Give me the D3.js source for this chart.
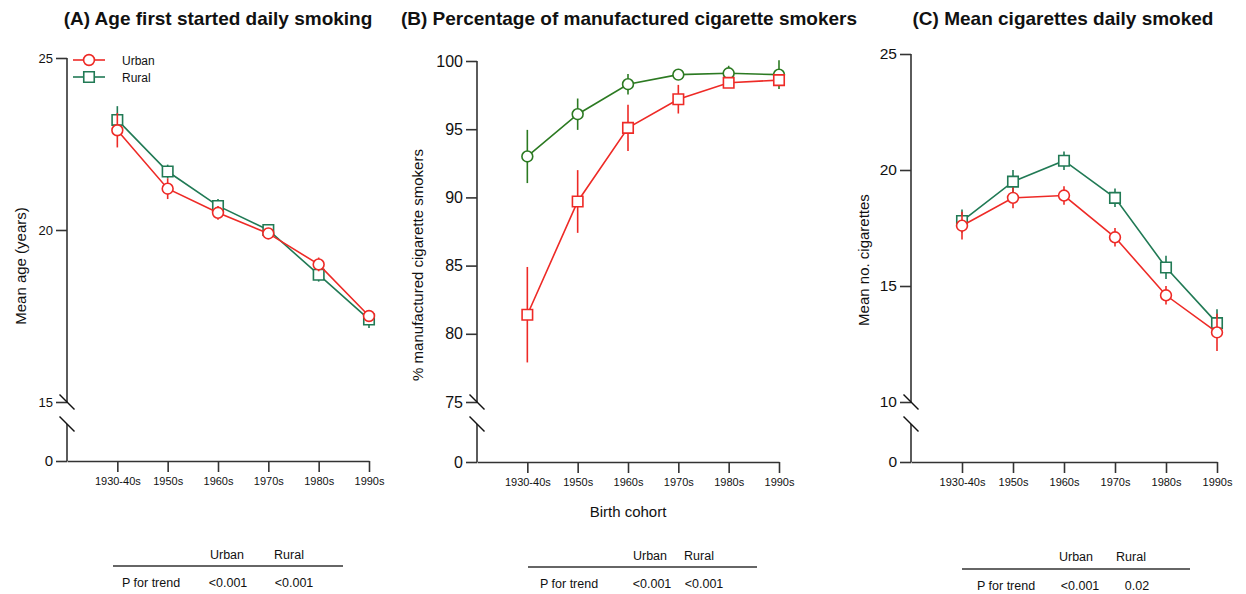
<!DOCTYPE html>
<html>
<head>
<meta charset="utf-8">
<script src="https://cdn.jsdelivr.net/npm/d3@7"></script>
<style>
  body { margin: 0; background: #fff; }
</style>
</head>
<body>
<svg id="chart" width="1246" height="594"></svg>
<script>
// ---- data ----
const cohorts = ['1930-40s', '1950s', '1960s', '1970s', '1980s', '1990s'];

// (A) age first started daily smoking
const ageUrban = [22.9, 21.2, 20.5, 19.9, 19.0, 17.5];
const ageUrbanErr = [0.5, 0.3, 0.2, 0.15, 0.2, 0.15];
const ageRural = [23.2, 21.7, 20.7, 20.0, 18.7, 17.4];
const ageRuralErr = [0.4, 0.2, 0.2, 0.1, 0.2, 0.25];

// (B) % manufactured cigarette smokers
const manufUrban = [81.4, 89.7, 95.1, 97.2, 98.4, 98.6];
const manufUrbanErr = [3.5, 2.3, 1.7, 1.05, 0.35, 0.2];
const manufRural = [93.0, 96.1, 98.3, 99.0, 99.1, 99.0];
const manufRuralErr = [1.95, 1.15, 0.75, 0.3, 0.55, 1.05];

// (C) mean cigarettes smoked daily
const cigUrban = [17.6, 18.8, 18.9, 17.1, 14.6, 13.0];
const cigUrbanErr = [0.6, 0.45, 0.4, 0.4, 0.4, 0.8];
const cigRural = [17.8, 19.5, 20.4, 18.8, 15.8, 13.4];
const cigRuralErr = [0.5, 0.5, 0.4, 0.4, 0.5, 0.6];

// tick labels / trend table
const ageTicks = [0, 15, 20, 25];
const manufTicks = [0, 75, 80, 85, 90, 95, 100];
const cigTicks = [0, 10, 15, 20, 25];
const tableCols = ['Urban', 'Rural'];
const pTrendUrban = ['<0.001', '<0.001', '<0.001'];
const pTrendRural = ['<0.001', '<0.001', '0.02'];

const FONT = '"Liberation Sans", Arial, Helvetica, sans-serif';
const RED = '#ee2a26';
const GREEN = '#217a55';
const GREEN_B = '#2c7a22';
const AXIS = '#333';
const CIRCLE_SIZE = 92;
const SQUARE_SIZE = 110;

const svg = d3.select('#chart').attr('font-family', FONT);

function drawPanel(p) {
  const g = svg.append('g');

  const x = d3.scalePoint().domain(cohorts)
      .range([p.left, p.right]).padding(0.5).align(1);
  const y = d3.scaleLinear().domain(p.yDomain).range(p.yRange);

  // x axis
  const xAxis = g.append('g')
      .attr('transform', `translate(0,${y(0)})`)
      .call(d3.axisBottom(x).tickSize(11).tickSizeOuter(0).tickPadding(5));
  xAxis.attr('font-family', FONT).attr('font-size', 11).attr('color', AXIS);
  xAxis.selectAll('path, line').attr('stroke-width', 1.6);
  xAxis.selectAll('text').attr('fill', '#111');

  // y axis (broken)
  const yAxis = g.append('g')
      .attr('transform', `translate(${p.left},0)`)
      .call(d3.axisLeft(y).tickValues(p.yTicks).tickSize(11).tickPadding(3));
  yAxis.attr('font-family', FONT).attr('font-size', p.tickFont).attr('color', AXIS);
  yAxis.select('.domain').remove();
  yAxis.selectAll('line').attr('stroke-width', 1.6);
  yAxis.selectAll('text').attr('fill', '#111');
  if (p.zeroFont) yAxis.selectAll('.tick').filter(d => d === 0).select('text').attr('font-size', p.zeroFont);

  const gapTop = y(p.yDomain[1]);
  const gapBot = gapTop + 22;
  const top = y(p.yDomain[2]);
  [[top, gapTop], [gapBot, y(0)]].forEach(([a, b]) => {
    g.append('line').attr('x1', p.left).attr('x2', p.left)
      .attr('y1', a).attr('y2', b)
      .attr('stroke', AXIS).attr('stroke-width', 1.6);
  });
  [gapTop, gapBot].forEach(cy => {
    g.append('line')
      .attr('x1', p.left - 7.5).attr('y1', cy - 7.5)
      .attr('x2', p.left + 7.5).attr('y2', cy + 7.5)
      .attr('stroke', '#111').attr('stroke-width', 1.4);
  });

  // series
  p.series.forEach(s => {
    const line = d3.line()
        .x((d, i) => x(cohorts[i]))
        .y(d => y(d));
    g.append('path').datum(s.values)
      .attr('d', line).attr('fill', 'none')
      .attr('stroke', s.color).attr('stroke-width', 1.6);

    g.selectAll(null).data(s.values).enter().append('line')
      .attr('x1', (d, i) => x(cohorts[i])).attr('x2', (d, i) => x(cohorts[i]))
      .attr('y1', (d, i) => y(d + s.errors[i]))
      .attr('y2', (d, i) => y(d - s.errors[i]))
      .attr('stroke', s.color).attr('stroke-width', 1.6);

    const sym = d3.symbol()
        .type(s.shape === 'circle' ? d3.symbolCircle : d3.symbolSquare)
        .size(s.shape === 'circle' ? CIRCLE_SIZE : SQUARE_SIZE);
    g.selectAll(null).data(s.values).enter().append('path')
      .attr('d', sym)
      .attr('transform', (d, i) => `translate(${x(cohorts[i])},${y(d)})`)
      .attr('fill', '#fff').attr('stroke', s.color).attr('stroke-width', 1.6);
  });

  // title and axis label
  svg.append('text')
    .attr('x', p.titleX).attr('y', 25)
    .attr('text-anchor', 'middle')
    .attr('font-size', 19).attr('font-weight', 'bold').attr('fill', '#111')
    .text(p.title);

  svg.append('text')
    .attr('transform', `translate(${p.ylabelX},${p.ylabelY}) rotate(-90)`)
    .attr('text-anchor', 'middle')
    .attr('font-size', 15).attr('fill', '#111')
    .text(p.ylabel);

  // P for trend table
  const t = p.table;
  const tg = svg.append('g').attr('font-size', 12.5).attr('fill', '#111');
  tg.selectAll(null).data(tableCols).enter().append('text')
    .attr('x', (d, i) => t.colX[i]).attr('y', t.headY)
    .attr('text-anchor', 'middle').text(d => d);
  tg.append('line')
    .attr('x1', t.x0).attr('x2', t.x1).attr('y1', t.lineY).attr('y2', t.lineY)
    .attr('stroke', AXIS).attr('stroke-width', 1.5);
  tg.append('text').attr('x', t.labelX).attr('y', t.rowY).text('P for trend');
  tg.selectAll(null).data([pTrendUrban[p.idx], pTrendRural[p.idx]]).enter().append('text')
    .attr('x', (d, i) => t.valX[i]).attr('y', t.rowY)
    .attr('text-anchor', 'middle').text(d => d);

  return { x, y, g };
}

// (A)
drawPanel({
  idx: 0,
  left: 67, right: 369,
  yDomain: [0, 15, 25], yRange: [461, 402, 58], yTicks: ageTicks,
  tickFont: 13, zeroFont: 15,
  title: '(A) Age first started daily smoking', titleX: 218,
  ylabel: 'Mean age (years)', ylabelX: 26, ylabelY: 266,
  series: [
    { values: ageRural, errors: ageRuralErr, color: GREEN, shape: 'square' },
    { values: ageUrban, errors: ageUrbanErr, color: RED, shape: 'circle' }
  ],
  table: { x0: 113, x1: 343, lineY: 566, headY: 559, rowY: 587,
           colX: [227, 289], valX: [228, 294], labelX: 122 }
});

// (B)
drawPanel({
  idx: 1,
  left: 477, right: 779,
  yDomain: [0, 75, 100], yRange: [462, 402, 61], yTicks: manufTicks,
  tickFont: 16,
  title: '(B) Percentage of manufactured cigarette smokers', titleX: 629,
  ylabel: '% manufactured cigarette smokers', ylabelX: 423, ylabelY: 265,
  series: [
    { values: manufRural, errors: manufRuralErr, color: GREEN_B, shape: 'circle' },
    { values: manufUrban, errors: manufUrbanErr, color: RED, shape: 'square' }
  ],
  table: { x0: 528, x1: 757, lineY: 567, headY: 560, rowY: 588,
           colX: [650, 699], valX: [652, 704], labelX: 540 }
});

svg.append('text')
  .attr('x', 628).attr('y', 517)
  .attr('text-anchor', 'middle')
  .attr('font-size', 15).attr('fill', '#111')
  .text('Birth cohort');

// (C)
drawPanel({
  idx: 2,
  left: 911, right: 1217,
  yDomain: [0, 10, 25], yRange: [462, 402, 54], yTicks: cigTicks,
  tickFont: 15.5,
  title: '(C) Mean cigarettes daily smoked', titleX: 1063,
  ylabel: 'Mean no. cigarettes', ylabelX: 869, ylabelY: 260,
  series: [
    { values: cigRural, errors: cigRuralErr, color: GREEN, shape: 'square' },
    { values: cigUrban, errors: cigUrbanErr, color: RED, shape: 'circle' }
  ],
  table: { x0: 962, x1: 1190, lineY: 569, headY: 561, rowY: 590,
           colX: [1076, 1131], valX: [1080, 1137], labelX: 977 }
});

// legend (panel A)
const legendItems = [
  { label: 'Urban', color: RED, shape: d3.symbolCircle, size: CIRCLE_SIZE },
  { label: 'Rural', color: GREEN, shape: d3.symbolSquare, size: SQUARE_SIZE }
];
const lg = svg.append('g');
legendItems.forEach((it, i) => {
  const ly = 60 + i * 17;
  lg.append('line').attr('x1', 73).attr('x2', 105).attr('y1', ly).attr('y2', ly)
    .attr('stroke', it.color).attr('stroke-width', 1.6);
  lg.append('path').attr('d', d3.symbol().type(it.shape).size(it.size))
    .attr('transform', `translate(89,${ly})`)
    .attr('fill', '#fff').attr('stroke', it.color).attr('stroke-width', 1.6);
  lg.append('text').attr('x', 122).attr('y', ly + 4.5)
    .attr('font-size', 12).attr('fill', '#111').text(it.label);
});
</script>
</body>
</html>
